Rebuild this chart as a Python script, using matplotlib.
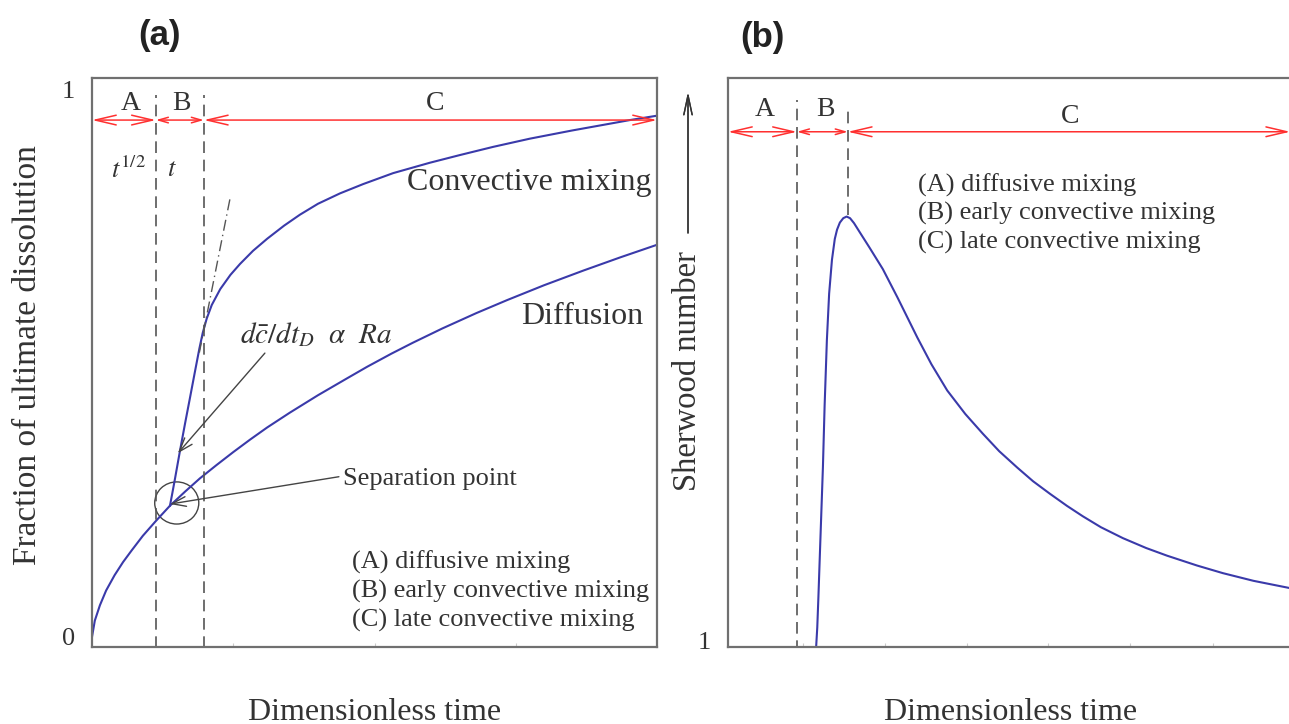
import matplotlib
matplotlib.use("Agg")
import matplotlib.pyplot as plt
from matplotlib.patches import Ellipse

plt.rcParams['font.family'] = ['Liberation Serif', 'DejaVu Serif']
plt.rcParams['mathtext.fontset'] = 'stix'

# panel (a): fraction of ultimate dissolution vs dimensionless time
diff_t = [0, 0.005, 0.014, 0.025, 0.040, 0.055, 0.070, 0.090, 0.113, 0.138, 0.165, 0.191,
          0.22, 0.25, 0.28, 0.31, 0.35, 0.40, 0.45, 0.487, 0.53, 0.568, 0.62, 0.68,
          0.735, 0.80, 0.87, 0.935, 1.0]
diff_f = [0, 0.030, 0.058, 0.085, 0.113, 0.137, 0.158, 0.185, 0.212, 0.240, 0.266, 0.290,
          0.314, 0.338, 0.361, 0.383, 0.410, 0.442, 0.472, 0.494, 0.518, 0.538, 0.564, 0.592,
          0.616, 0.643, 0.670, 0.694, 0.717]

conv_t = [0.138, 0.142, 0.147, 0.156, 0.165, 0.173, 0.182, 0.190, 0.196, 0.203, 0.212, 0.227,
          0.245, 0.262, 0.285, 0.310, 0.340, 0.368, 0.400, 0.439, 0.480, 0.533, 0.598, 0.651,
          0.710, 0.775, 0.850, 0.920, 0.952, 1.0]
conv_f = [0.240, 0.262, 0.290, 0.342, 0.392, 0.435, 0.484, 0.527, 0.556, 0.582, 0.607, 0.636,
          0.662, 0.682, 0.706, 0.728, 0.752, 0.772, 0.792, 0.811, 0.828, 0.848, 0.867, 0.881,
          0.896, 0.911, 0.926, 0.939, 0.945, 0.953]

regime_a = [0.0, 0.113, 0.198, 1.0]      # boundaries of A, B, C
tangent_t = [0.244, 0.190]
tangent_f = [0.800, 0.520]

# panel (b): Sherwood number vs dimensionless time
sh_t = [0.156, 0.158, 0.160, 0.163, 0.168, 0.171, 0.175, 0.179, 0.184, 0.189, 0.193, 0.198,
        0.204, 0.210, 0.216, 0.223, 0.234, 0.250, 0.274, 0.300, 0.335, 0.360, 0.388, 0.420,
        0.451, 0.480, 0.512, 0.540, 0.570, 0.600, 0.628, 0.660, 0.699, 0.740, 0.777, 0.830,
        0.876, 0.930, 0.993]
sh_v = [0.89, 1.25, 1.80, 2.70, 4.18, 5.30, 6.50, 7.35, 7.97, 8.35, 8.52, 8.65,
        8.73, 8.76, 8.73, 8.64, 8.46, 8.20, 7.80, 7.28, 6.55, 6.06, 5.58, 5.15,
        4.79, 4.47, 4.17, 3.92, 3.69, 3.47, 3.28, 3.08, 2.88, 2.70, 2.56, 2.38,
        2.24, 2.10, 1.97]
regime_b = [0.0, 0.122, 0.212, 0.995]

legend_lines = ["(A) diffusive mixing", "(B) early convective mixing", "(C) late convective mixing"]

blue = '#3a3aaa'
red = '#ff3030'
grey = '#555555'
spine = '#707070'
txt = '#333333'

fig = plt.figure(figsize=(12.89, 7.24), dpi=100)
ax1 = fig.add_axes([92/1289, 77/724, 565/1289, 569/724])
ax2 = fig.add_axes([728/1289, 77/724, 565/1289, 569/724])

for ax in (ax1, ax2):
    for s in ax.spines.values():
        s.set_color(spine)
        s.set_linewidth(1.6)
    ax.tick_params(axis='x', direction='in', length=3, color='#cccccc', labelbottom=False)
    ax.tick_params(axis='y', length=0, labelsize=19, labelcolor=txt, pad=12)


def regime_arrows(ax, bounds, y):
    for i in range(3):
        if i == 1:
            style = '<->,head_length=0.7,head_width=0.2'
        else:
            style = '<->,head_length=1.5,head_width=0.35'
        ax.annotate('', xy=(bounds[i + 1], y), xytext=(bounds[i], y),
                    arrowprops=dict(arrowstyle=style, color=red, lw=1.1,
                                    shrinkA=0, shrinkB=0, mutation_scale=10))


# ---- panel (a)
ax1.set_xlim(0, 1)
ax1.set_ylim(-0.0183, 1.0219)
ax1.set_xticks([0.25, 0.5, 0.75])
ax1.set_yticks([0, 1])
ax1.set_yticklabels(['0', '1'])

ax1.plot(diff_t, diff_f, color=blue, lw=1.5)
ax1.plot(conv_t, conv_f, color=blue, lw=1.5)
ax1.plot(tangent_t, tangent_f, color=grey, lw=1.0, ls=(0, (8, 3, 1, 3)))

for xb in regime_a[1:3]:
    ax1.plot([xb, xb], [-0.02, 0.991], color=grey, lw=1.2, ls=(0, (7, 4)))
regime_arrows(ax1, regime_a, 0.945)

for lab, xc in zip("ABC", [0.069, 0.158, 0.607]):
    ax1.text(xc, 0.976, lab, fontsize=20, color=txt, ha='center', va='center')

ax1.text(0.064, 0.854, r'$t^{\mathrm{1/2}}$', fontsize=19, color=txt, ha='center', va='center')
ax1.text(0.142, 0.854, r'$t$', fontsize=19, color=txt, ha='center', va='center')
ax1.text(0.991, 0.830, "Convective mixing", fontsize=23, color=txt, ha='right', va='center')
ax1.text(0.975, 0.585, "Diffusion", fontsize=23, color=txt, ha='right', va='center')
ax1.text(0.262, 0.553, r'$d\bar{c}/dt_D\ \ \alpha\ \ Ra$', fontsize=21, color=txt, ha='left', va='center')
ax1.text(0.444, 0.289, "Separation point", fontsize=19, color=txt, ha='left', va='center')

ax1.annotate('', xy=(0.152, 0.336), xytext=(0.306, 0.519),
             arrowprops=dict(arrowstyle='->,head_length=1.0,head_width=0.35', color='#444444',
                             lw=1.0, shrinkA=0, shrinkB=0))
ax1.annotate('', xy=(0.138, 0.243), xytext=(0.437, 0.293),
             arrowprops=dict(arrowstyle='->,head_length=1.0,head_width=0.35', color='#444444',
                             lw=1.0, shrinkA=0, shrinkB=0))
ax1.add_patch(Ellipse((0.150, 0.245), 0.078, 0.077, fill=False, ec='#444444', lw=1.0))

for i, line in enumerate(legend_lines):
    ax1.text(0.460, 0.137 - i * 0.053, line, fontsize=19, color=txt, ha='left', va='center')

# ---- panel (b)
ax2.set_xlim(0, 1)
ax2.set_ylim(0.89, 11.293)
ax2.set_xticks([0.133, 0.278, 0.423, 0.566, 0.711, 0.858])
ax2.set_yticks([1])
ax2.set_yticklabels(['1'])

ax2.plot(sh_t, sh_v, color=blue, lw=1.5)
ax2.plot([regime_b[1]] * 2, [0.8, 10.89], color=grey, lw=1.2, ls=(0, (7, 4)))
ax2.plot([regime_b[2]] * 2, [8.79, 10.80], color=grey, lw=1.2, ls=(0, (7, 4)))
regime_arrows(ax2, regime_b, 10.31)

for lab, xc, yc in zip("ABC", [0.065, 0.173, 0.605], [10.71, 10.71, 10.58]):
    ax2.text(xc, yc, lab, fontsize=20, color=txt, ha='center', va='center')

for i, line in enumerate(legend_lines):
    ax2.text(0.336, 9.34 - i * 0.53, line, fontsize=19, color=txt, ha='left', va='center')

# ---- figure-level labels
fig.text(375/1289, 1 - 712/724, "Dimensionless time", fontsize=23, color=txt, ha='center', va='center')
fig.text(1011/1289, 1 - 712/724, "Dimensionless time", fontsize=23, color=txt, ha='center', va='center')
fig.text(28/1289, 1 - 355/724, "Fraction of ultimate dissolution", fontsize=24, color=txt,
         rotation=90, ha='center', va='center')
fig.text(688/1289, 1 - 371/724, "Sherwood number", fontsize=23.5, color=txt,
         rotation=90, ha='center', va='center')
fig.add_artist(plt.annotate('', xy=(688/1289, 1 - 92/724), xytext=(688/1289, 1 - 233/724),
                            xycoords='figure fraction', textcoords='figure fraction',
                            arrowprops=dict(arrowstyle='->,head_length=1.4,head_width=0.3',
                                            color='#333333', lw=1.0, shrinkA=0, shrinkB=0)))
fig.text(160/1289, 1 - 35/724, "(a)", fontsize=25, fontweight='bold', family='Liberation Sans',
         color='#222222', ha='center', va='center')
fig.text(762/1289, 1 - 38/724, "(b)", fontsize=25, fontweight='bold', family='Liberation Sans',
         color='#222222', ha='center', va='center')

fig.savefig("out.png", dpi=100)
